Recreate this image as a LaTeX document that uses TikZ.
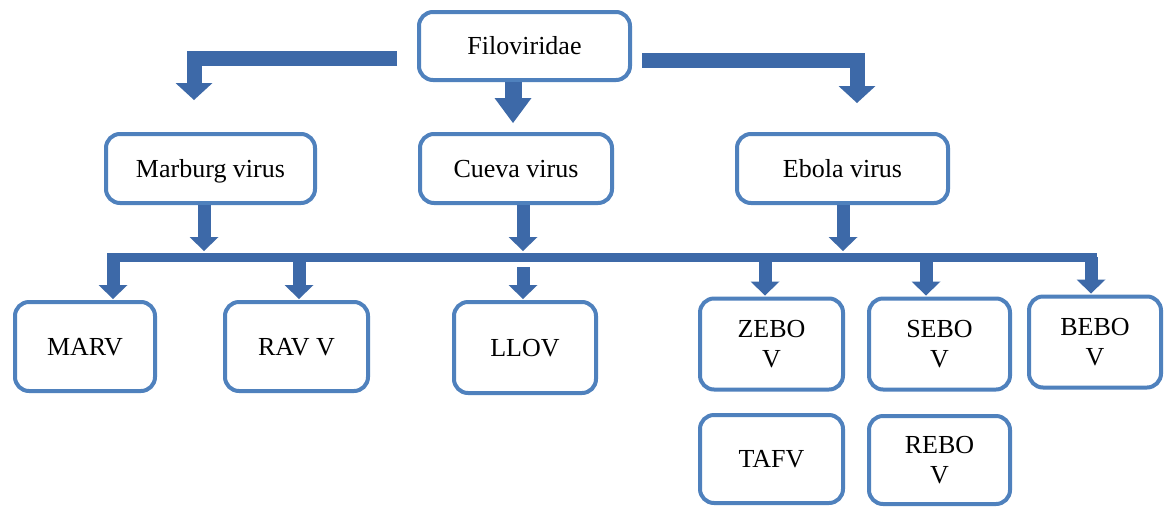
\documentclass[tikz,border=0pt]{standalone}
\usepackage{fontspec}
\setmainfont{Liberation Serif}
\usetikzlibrary{arrows.meta,calc}
\definecolor{boxblue}{HTML}{4F81BD}
\definecolor{arrblue}{HTML}{3D69A8}
\begin{document}
\begin{tikzpicture}[x=1pt,y=-1pt,
  box/.style={draw=boxblue, line width=4pt, rounded corners=14pt, fill=white,
    inner sep=0pt, align=center, font=\fontsize{26}{30}\selectfont},
  oneline/.style={text height=22pt, text depth=5pt},
  arrA/.style={draw=arrblue, line width=15pt, line join=miter,
    -{Triangle[width=37pt,length=17pt,line width=0pt]}},
  arrC/.style={draw=arrblue, line width=17pt,
    -{Triangle[width=37pt,length=25pt,line width=0pt]}},
  arrB/.style={draw=arrblue, line width=13pt,
    -{Triangle[width=29pt,length=14pt,line width=0pt]}},
  barline/.style={draw=arrblue, line width=9pt}
]
\useasboundingbox (0,0) rectangle (1164,507);
\fill[white] (0,0) rectangle (1164,507);

% nodes
\node[box, oneline, minimum width=211, minimum height=68] (fil) at (524.5,46) {Filoviridae};
\node[box, oneline, minimum width=209, minimum height=69] (mar) at (210.5,168.5) {Marburg virus};
\node[box, oneline, minimum width=192, minimum height=69] (cue) at (516,168.5) {Cueva virus};
\node[box, oneline, minimum width=211, minimum height=69] (ebo) at (842.5,168.5) {Ebola virus};
\node[box, oneline, minimum width=140, minimum height=89] (marv) at (85,346.5) {MARV};
\node[box, oneline, minimum width=143, minimum height=89] (ravv) at (296.5,346.5) {RAV V};
\node[box, oneline, minimum width=142, minimum height=91] (llov) at (525,347.5) {LLOV};
\node[box, minimum width=143, minimum height=91] (zebo) at (771.5,344) {ZEBO\\V};
\node[box, minimum width=141, minimum height=91] (sebo) at (939.5,344) {SEBO\\V};
\node[box, minimum width=132, minimum height=91] (bebo) at (1095,342) {BEBO\\V};
\node[box, oneline, minimum width=143, minimum height=88] (tafv) at (771.5,459) {TAFV};
\node[box, minimum width=141, minimum height=88] (rebo) at (939.5,460) {REBO\\V};

% top-level connectors
\coordinate (fltip) at (194,100);
\coordinate (frtip) at (857,103);
\coordinate (fctip) at (513,123);
\draw[arrA] ($(fil.west)+(-20,12)$) -| (fltip);
\draw[arrA] ($(fil.east)+(10,14)$) -| (frtip);
\draw[arrC] (fil.south -| fctip) -- (fctip);

% second-level connectors
\coordinate (bl) at (107,257);
\coordinate (br) at (1097,257);
\coordinate (xmar) at (204,251);
\coordinate (xcue) at (523,251);
\coordinate (xebo) at (843,251);
\draw[arrB] (mar.south -| xmar) -- (xmar);
\draw[arrB] (cue.south -| xcue) -- (xcue);
\draw[arrB] (ebo.south -| xebo) -- (xebo);
\draw[barline] (bl) -- (br);

\coordinate (xa) at (113,0);
\coordinate (xb) at (299,0);
\coordinate (xl) at (523,267);
\coordinate (xz) at (765,0);
\coordinate (xs) at (926,0);
\coordinate (xe) at (1091,0);
\draw[arrB] (bl -| xa) -- ($(xa |- marv.north)+(0,-1)$);
\draw[arrB] (bl -| xb) -- ($(xb |- ravv.north)+(0,-1)$);
\draw[arrB] (xl) -- ($(xl |- llov.north)+(0,-1)$);
\draw[arrB] (bl -| xz) -- ($(xz |- zebo.north)+(0,-1)$);
\draw[arrB] (bl -| xs) -- ($(xs |- sebo.north)+(0,-1)$);
\draw[arrB] (bl -| xe) -- ($(xe |- bebo.north)+(0,-1)$);
\end{tikzpicture}
\end{document}
